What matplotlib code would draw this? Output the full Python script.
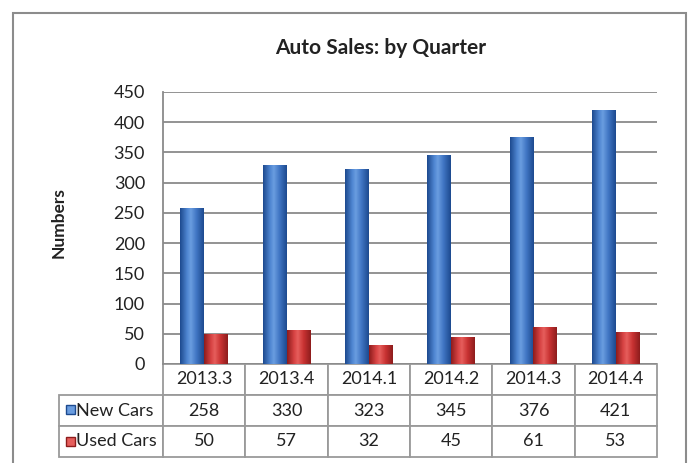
import numpy as np
import matplotlib
matplotlib.use("Agg")
import matplotlib.pyplot as plt
from matplotlib.colors import LinearSegmentedColormap
from matplotlib.patches import Rectangle

plt.rcParams['font.family'] = ['Lato', 'DejaVu Sans']

# data
quarters = ["2013.3", "2013.4", "2014.1", "2014.2", "2014.3", "2014.4"]
new_cars = [258, 330, 323, 345, 376, 421]
used_cars = [50, 57, 32, 45, 61, 53]
series_names = ["New Cars", "Used Cars"]

blue_cmap = LinearSegmentedColormap.from_list(
    "blue", [(0, "#1d4a8f"), (0.3, "#4f86d2"), (0.45, "#6a9de0"), (0.7, "#3f74c2"), (1, "#1d4a8f")])
red_cmap = LinearSegmentedColormap.from_list(
    "red", [(0, "#8e1c1c"), (0.3, "#d84444"), (0.45, "#e65e5c"), (0.7, "#c83232"), (1, "#8e1c1c")])

W, H = 691, 463
AW, AH = 657 - 163, 364 - 92
fig = plt.figure(figsize=(W / 100, H / 100), dpi=100)
ax = fig.add_axes([163 / W, 1 - 364 / H, AW / W, AH / H])

x = np.arange(len(quarters))
w = 0.29
grad = np.linspace(0, 1, 64).reshape(1, -1)

for vals, off, cmap, base in [(new_cars, -w / 2, blue_cmap, "#3a6fc0"),
                              (used_cars, w / 2, red_cmap, "#c83232")]:
    bars = ax.bar(x + off, vals, width=w, color=base, zorder=3, linewidth=0)
    for b in bars:
        x0, y0 = b.get_x(), b.get_y()
        im = ax.imshow(grad, cmap=cmap, aspect='auto', zorder=3.5,
                       extent=[x0, x0 + b.get_width(), y0, y0 + b.get_height()])
        im.set_clip_path(b)
ax.set_ylim(0, 450)
ax.set_xlim(-0.5, len(quarters) - 0.5)

ax.set_yticks(np.arange(0, 451, 50))
ax.yaxis.grid(True, color="#8a8a8a", linewidth=1.3, zorder=0)
ax.set_axisbelow(True)
ax.set_xticks([])
ax.tick_params(axis='y', length=0, pad=13, labelsize=13, labelcolor="#222222")
for s in ["top", "right", "bottom"]:
    ax.spines[s].set_visible(False)
ax.spines["left"].set_color("#8a8a8a")
ax.spines["left"].set_linewidth(1.3)

# data table
row_h = 31 / AH
tbl = ax.table(cellText=[[str(v) for v in new_cars], [str(v) for v in used_cars]],
               rowLabels=series_names, colLabels=quarters,
               cellLoc='center', rowLoc='left', colLoc='center',
               bbox=[0, -3 * row_h, 1, 3 * row_h])
tbl._autoColumns = []
tbl.auto_set_font_size(False)
tbl.set_fontsize(13)
for (r, c), cell in tbl.get_celld().items():
    cell.set_linewidth(1.3)
    cell.set_edgecolor("#9a9a9a")
    cell.get_text().set_color("#222222")
    cell.set_height(row_h)
    if c == -1:
        cell.set_width((163 - 59.3) / AW)
        cell.PAD = 0.165
    else:
        cell.set_width(1 / len(quarters))

# legend keys in the table
for i, (cmap, ec) in enumerate([(blue_cmap, "#1d4a8f"), (red_cmap, "#8e1c1c")]):
    yc = (364 - (409.5 + i * 32)) / AH
    sq = Rectangle(((66 - 163) / AW, yc - 4.5 / AH), 9 / AW, 9 / AH,
                   transform=ax.transAxes, facecolor=cmap(0.45), edgecolor=ec,
                   linewidth=1, clip_on=False, zorder=5)
    ax.add_patch(sq)

fig.text(381 / W, 1 - 48 / H, "Auto Sales: by Quarter", ha='center', va='center',
         fontsize=15, fontweight='bold', color="#222222")
fig.text(59 / W, 1 - 223 / H, "Numbers", ha='center', va='center', rotation=90,
         fontsize=12.5, fontweight='bold', color="#222222")

fig.patches.append(Rectangle((13 / W, -0.05), (686 - 13) / W, 1 - 13 / H + 0.05,
                             transform=fig.transFigure, fill=False,
                             edgecolor="#8c8c8c", linewidth=1.5))

fig.savefig("out.png", dpi=100)
